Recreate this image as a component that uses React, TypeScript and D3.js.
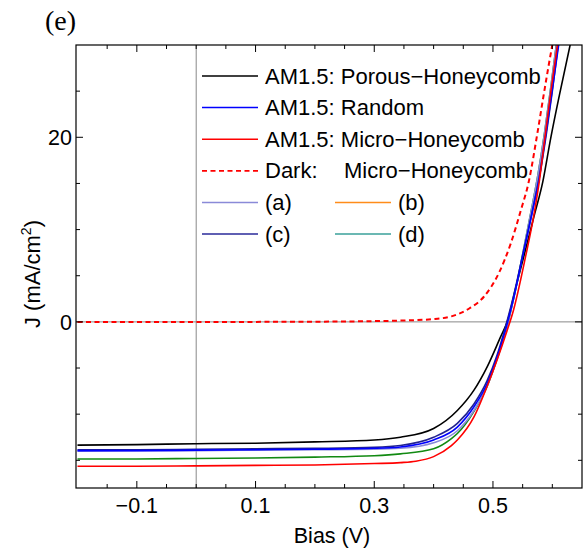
import * as d3 from "d3";

// J-V curves (V in volts, J in mA/cm2)
const porousV = [-0.2, -0.1, 0, 0.1, 0.2, 0.3, 0.344, 0.4, 0.44, 0.468, 0.49, 0.513, 0.524, 0.538, 0.552, 0.569, 0.584, 0.597, 0.614, 0.632];
const porousJ = [-13.35, -13.3, -13.2, -13.15, -13.0, -12.8, -12.5, -11.55, -9.6, -7.4, -4.9, -1.6, 0, 3.6, 7.1, 11.4, 15.2, 19.8, 25.2, 30.6];

const randomV = [-0.2, -0.1, 0, 0.1, 0.2, 0.3, 0.344, 0.4, 0.44, 0.468, 0.49, 0.507, 0.521, 0.535, 0.55, 0.566, 0.577, 0.589, 0.6, 0.612];
const randomJ = [-13.95, -13.95, -13.9, -13.85, -13.8, -13.7, -13.55, -12.8, -11.4, -9.2, -6.7, -3.8, -0.9, 2.6, 7.1, 11.8, 15.3, 20.3, 25.2, 30.6];

const microV = [-0.2, -0.1, 0, 0.1, 0.2, 0.3, 0.344, 0.37, 0.4, 0.43, 0.44, 0.468, 0.49, 0.507, 0.524, 0.533, 0.555, 0.569, 0.578, 0.588, 0.598, 0.61];
const microJ = [-15.65, -15.65, -15.6, -15.55, -15.5, -15.35, -15.25, -15.1, -14.6, -13.4, -12.8, -10.3, -7.0, -4.1, -0.9, 0.9, 7.1, 11.6, 15.2, 20.2, 25.2, 30.6];

const darkV = [-0.2, 0, 0.1, 0.2, 0.3, 0.35, 0.4, 0.43, 0.46, 0.485, 0.51, 0.53, 0.547, 0.56, 0.575, 0.587, 0.6, 0.606];
const darkJ = [0, 0, 0, 0.02, 0.08, 0.15, 0.3, 0.6, 1.45, 2.75, 5.3, 8.5, 12.1, 15.1, 20.5, 25.2, 30, 32];

const aV = [-0.2, -0.1, 0, 0.1, 0.2, 0.3, 0.344, 0.4, 0.44, 0.468, 0.49, 0.507, 0.522, 0.535, 0.55, 0.565, 0.576, 0.587, 0.597, 0.608];
const aJ = [-14.0, -13.95, -13.95, -13.9, -13.85, -13.8, -13.7, -13.1, -11.8, -9.6, -7.0, -4.0, -0.9, 2.6, 7.3, 12.2, 16.0, 20.5, 25.2, 30.6];

const cV = [-0.2, -0.1, 0, 0.1, 0.2, 0.3, 0.344, 0.4, 0.44, 0.468, 0.49, 0.507, 0.52, 0.535, 0.55, 0.566, 0.578, 0.59, 0.6, 0.611];
const cJ = [-13.85, -13.85, -13.8, -13.75, -13.7, -13.6, -13.4, -12.5, -11.0, -8.9, -6.4, -3.6, -0.8, 2.9, 7.2, 11.9, 15.6, 20.4, 25.0, 30.6];

const dV = [-0.2, -0.1, 0, 0.1, 0.2, 0.3, 0.344, 0.4, 0.43, 0.44, 0.468, 0.49, 0.507, 0.522, 0.535, 0.55, 0.565, 0.576, 0.587, 0.597, 0.608];
const dJ = [-14.85, -14.85, -14.8, -14.75, -14.65, -14.5, -14.3, -13.75, -12.65, -12.1, -9.7, -7.0, -4.0, -0.9, 2.6, 7.3, 12.2, 16.0, 20.5, 25.2, 30.6];

const xTickLabels = [-0.1, 0.1, 0.3, 0.5];
const yTickLabels = [0, 20];

const legendTop = ["AM1.5: Porous\u2212Honeycomb", "AM1.5: Random", "AM1.5: Micro\u2212Honeycomb"];

const W = 583;
const H = 551;
const m = { left: 76, right: 582, top: 45, bottom: 488 };
const sans = "'Liberation Sans', Arial, sans-serif";

const x = d3.scaleLinear().domain([-0.2025, 0.65]).range([m.left, m.right]);
const y = d3.scaleLinear().domain([-18, 30]).range([m.bottom, m.top]);

const line = d3
  .line<[number, number]>()
  .x((p) => x(p[0]))
  .y((p) => y(p[1]))
  .curve(d3.curveMonotoneX);

const zip = (v: number[], j: number[]) => v.map((vv, i) => [vv, j[i]] as [number, number]);

const series = [
  { v: porousV, j: porousJ, color: "#000000", dash: "" },
  { v: dV, j: dJ, color: "#128a12", dash: "" },
  { v: aV, j: aJ, color: "#8a8ad8", dash: "" },
  { v: cV, j: cJ, color: "#22228f", dash: "" },
  { v: randomV, j: randomJ, color: "#0000ff", dash: "" },
  { v: microV, j: microJ, color: "#ff0000", dash: "" },
  { v: darkV, j: darkJ, color: "#ff0000", dash: "5,3.5" },
];

const fmt = (v: number) => (v < 0 ? "\u2212" : "") + Math.abs(v).toString();

export default function App() {
  const xMinor = d3.range(-0.15, 0.65, 0.05);
  const yMinor = d3.range(-15, 30, 5);
  const rowY = (i: number) => 76 + i * 31.6;
  return (
    <svg width={W} height={H} style={{ position: "absolute", left: 0, top: 0 }} fontFamily={sans}>
      <defs>
        <clipPath id="plot">
          <rect x={m.left} y={m.top} width={m.right - m.left} height={m.bottom - m.top} />
        </clipPath>
      </defs>
      <rect width={W} height={H} fill="#fff" />

      {/* zero lines */}
      <line x1={m.left} x2={m.right} y1={y(0)} y2={y(0)} stroke="#888" strokeWidth={1} />
      <line x1={x(0)} x2={x(0)} y1={m.top} y2={m.bottom} stroke="#888" strokeWidth={1} />

      <g clipPath="url(#plot)" fill="none">
        {series.map((s, i) => (
          <path key={i} d={line(zip(s.v, s.j)) || ""} stroke={s.color} strokeWidth={s.dash ? 2 : 1.6} strokeDasharray={s.dash || undefined} />
        ))}
      </g>

      {/* frame and ticks */}
      <rect x={m.left} y={m.top} width={m.right - m.left} height={m.bottom - m.top} fill="none" stroke="#000" strokeWidth={1.2} />
      {xMinor.map((v, i) => {
        const major = xTickLabels.some((t) => Math.abs(t - v) < 1e-6);
        const len = major ? 7 : 4;
        return (
          <g key={"xt" + i} stroke="#000" strokeWidth={1}>
            <line x1={x(v)} x2={x(v)} y1={m.bottom} y2={m.bottom - len} />
            <line x1={x(v)} x2={x(v)} y1={m.top} y2={m.top + len} />
          </g>
        );
      })}
      {yMinor.map((v, i) => {
        const major = yTickLabels.includes(Math.round(v));
        const len = major ? 7 : 4;
        return (
          <g key={"yt" + i} stroke="#000" strokeWidth={1}>
            <line x1={m.left} x2={m.left + len} y1={y(v)} y2={y(v)} />
            <line x1={m.right} x2={m.right - len} y1={y(v)} y2={y(v)} />
          </g>
        );
      })}
      {xTickLabels.map((v) => (
        <text key={"xl" + v} x={x(v)} y={512.5} fontSize={21.5} textAnchor="middle">
          {fmt(v)}
        </text>
      ))}
      {yTickLabels.map((v) => (
        <text key={"yl" + v} x={72} y={y(v) + 7.7} fontSize={21.5} textAnchor="end">
          {fmt(v)}
        </text>
      ))}

      <text x={332} y={543} fontSize={21.5} textAnchor="middle">Bias (V)</text>
      <text transform="translate(40,274) rotate(-90)" fontSize={22} textAnchor="middle">
        J (mA/cm<tspan fontSize={14} dy={-9}>2</tspan><tspan dy={9}>)</tspan>
      </text>
      <text x={45} y={30} fontSize={28} fontFamily="'Liberation Serif', 'Times New Roman', serif">(e)</text>

      {/* legend */}
      <g fontSize={22}>
        {legendTop.map((t, i) => (
          <g key={t}>
            <line x1={202} x2={258} y1={rowY(i)} y2={rowY(i)} stroke={["#000", "#0000ff", "#ff0000"][i]} strokeWidth={1.5} />
            <text x={265} y={rowY(i) + 7.5}>{t}</text>
          </g>
        ))}
        <line x1={202} x2={258} y1={rowY(3)} y2={rowY(3)} stroke="#ff0000" strokeWidth={1.8} strokeDasharray="5,3.5" />
        <text x={265} y={rowY(3) + 7.5}>Dark:</text>
        <text x={344} y={rowY(3) + 7.5}>Micro{"\u2212"}Honeycomb</text>
        {[
          { t: "(a)", c: "#8a8ad8", col: 0, row: 4 },
          { t: "(b)", c: "#ff8c1a", col: 1, row: 4 },
          { t: "(c)", c: "#2a2a9a", col: 0, row: 5 },
          { t: "(d)", c: "#3aa09a", col: 1, row: 5 },
        ].map((e) => (
          <g key={e.t}>
            <line x1={202 + e.col * 133} x2={258 + e.col * 133} y1={rowY(e.row)} y2={rowY(e.row)} stroke={e.c} strokeWidth={1.5} />
            <text x={265 + e.col * 133} y={rowY(e.row) + 7.5}>{e.t}</text>
          </g>
        ))}
      </g>
    </svg>
  );
}
